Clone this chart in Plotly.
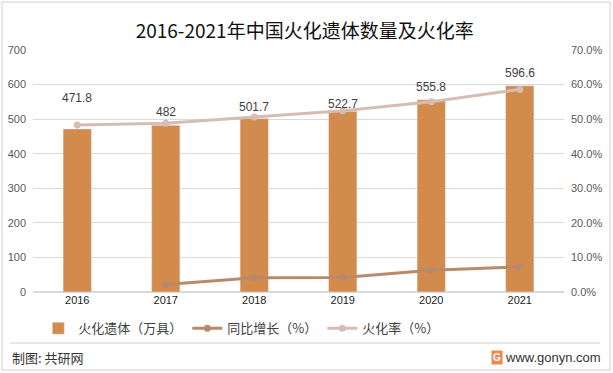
import plotly.graph_objects as go

years = ["2016", "2017", "2018", "2019", "2020", "2021"]
cremated = [471.8, 482, 501.7, 522.7, 555.8, 596.6]          # 万具
growth = [None, 2.2, 4.1, 4.2, 6.3, 7.3]                     # %
rate = [48.3, 48.8, 50.6, 52.4, 55.0, 58.6]                  # %
label_y = [560, 522, 535, 543, 592, 634]                     # label anchor heights (left axis units)

left_ticks = [0, 100, 200, 300, 400, 500, 600, 700]
right_ticks = [0, 10, 20, 30, 40, 50, 60, 70]

CJK = "Noto Sans CJK SC, Noto Sans, sans-serif"
NUM = "Liberation Sans, Noto Sans CJK SC, sans-serif"

fig = go.Figure()
fig.add_trace(go.Bar(
    x=years, y=cremated, name="火化遗体（万具）",
    marker=dict(color="#D38B4D"), width=0.32,
))
fig.add_trace(go.Scatter(
    x=years, y=growth, name="同比增长（%）", yaxis="y2",
    mode="lines+markers", line=dict(color="#B8896A", width=3),
    marker=dict(size=7, color="#B8896A"),
))
fig.add_trace(go.Scatter(
    x=years, y=rate, name="火化率（%）", yaxis="y2",
    mode="lines+markers", line=dict(color="#D5BDB3", width=3),
    marker=dict(size=7, color="#D5BDB3"),
))

for i, (v, ly) in enumerate(zip(cremated, label_y)):
    fig.add_annotation(x=i, y=ly, xref="x", yref="y", text=f"{v:g}",
                       showarrow=False, font=dict(family=NUM, size=12, color="#404040"))

fig.update_layout(
    width=613, height=373, autosize=False,
    margin=dict(l=33, r=49, t=50, b=81),
    paper_bgcolor="white", plot_bgcolor="white",
    title=dict(text="2016-2021年中国火化遗体数量及火化率", x=0.497, xanchor="center",
               y=0.915, yanchor="middle",
               font=dict(family=CJK, size=19, color="#111111")),
    xaxis=dict(type="category", range=[-0.5, 5.5], showgrid=False, showline=False, ticks="",
               automargin=False,
               tickfont=dict(family=NUM, size=11, color="#222222")),
    yaxis=dict(range=[0, 700], tickvals=left_ticks, showgrid=True, gridcolor="#D9D9D9",
               gridwidth=1, zeroline=True, zerolinecolor="#D9D9D9", showline=False,
               automargin=False,
               tickfont=dict(family=NUM, size=11, color="#595959"), ticklabelstandoff=6),
    yaxis2=dict(range=[0, 70], tickvals=right_ticks, ticktext=[f"{t:.1f}%" for t in right_ticks],
                overlaying="y", side="right", showgrid=False, zeroline=False, showline=False,
                automargin=False,
                tickfont=dict(family=NUM, size=11, color="#595959"), ticklabelstandoff=6),
    legend=dict(orientation="h", x=0.010, xanchor="left", y=-0.15, yanchor="middle",
                font=dict(family=CJK, size=13, color="#404040"), bgcolor="rgba(0,0,0,0)",
                traceorder="normal"),
    bargap=0.69,
    showlegend=True,
)

# outer frame and footer separator
fig.add_shape(type="rect", xref="paper", yref="paper",
              x0=-31/531, x1=1+46/531, y0=-78/242, y1=1+48/242,
              line=dict(color="#D0D0D0", width=1))
fig.add_shape(type="line", xref="paper", yref="paper",
              x0=-23/531, x1=1+36/531, y0=-51/242, y1=-51/242,
              line=dict(color="#D0D0D0", width=1))
fig.add_annotation(xref="paper", yref="paper", x=-23/531, y=-65/242, xanchor="left", yanchor="middle",
                   text="制图: 共研网", showarrow=False,
                   font=dict(family=CJK, size=13, color="#333333"))
fig.add_annotation(xref="paper", yref="paper", x=1+39/531, y=-65/242, xanchor="right", yanchor="middle",
                   text="www.gonyn.com", showarrow=False,
                   font=dict(family="Liberation Sans, sans-serif", size=13, color="#333333"))
fig.add_annotation(xref="paper", yref="paper", x=1-67/531, y=-65/242, xanchor="center", yanchor="middle",
                   text="<b>G</b>", showarrow=False, bgcolor="#F08A4B", borderpad=1,
                   font=dict(family="Liberation Sans, sans-serif", size=10, color="white"))

fig.write_html("out.html", config={"displayModeBar": False},
               post_script="document.body.style.margin='0';document.body.style.padding='0';")
